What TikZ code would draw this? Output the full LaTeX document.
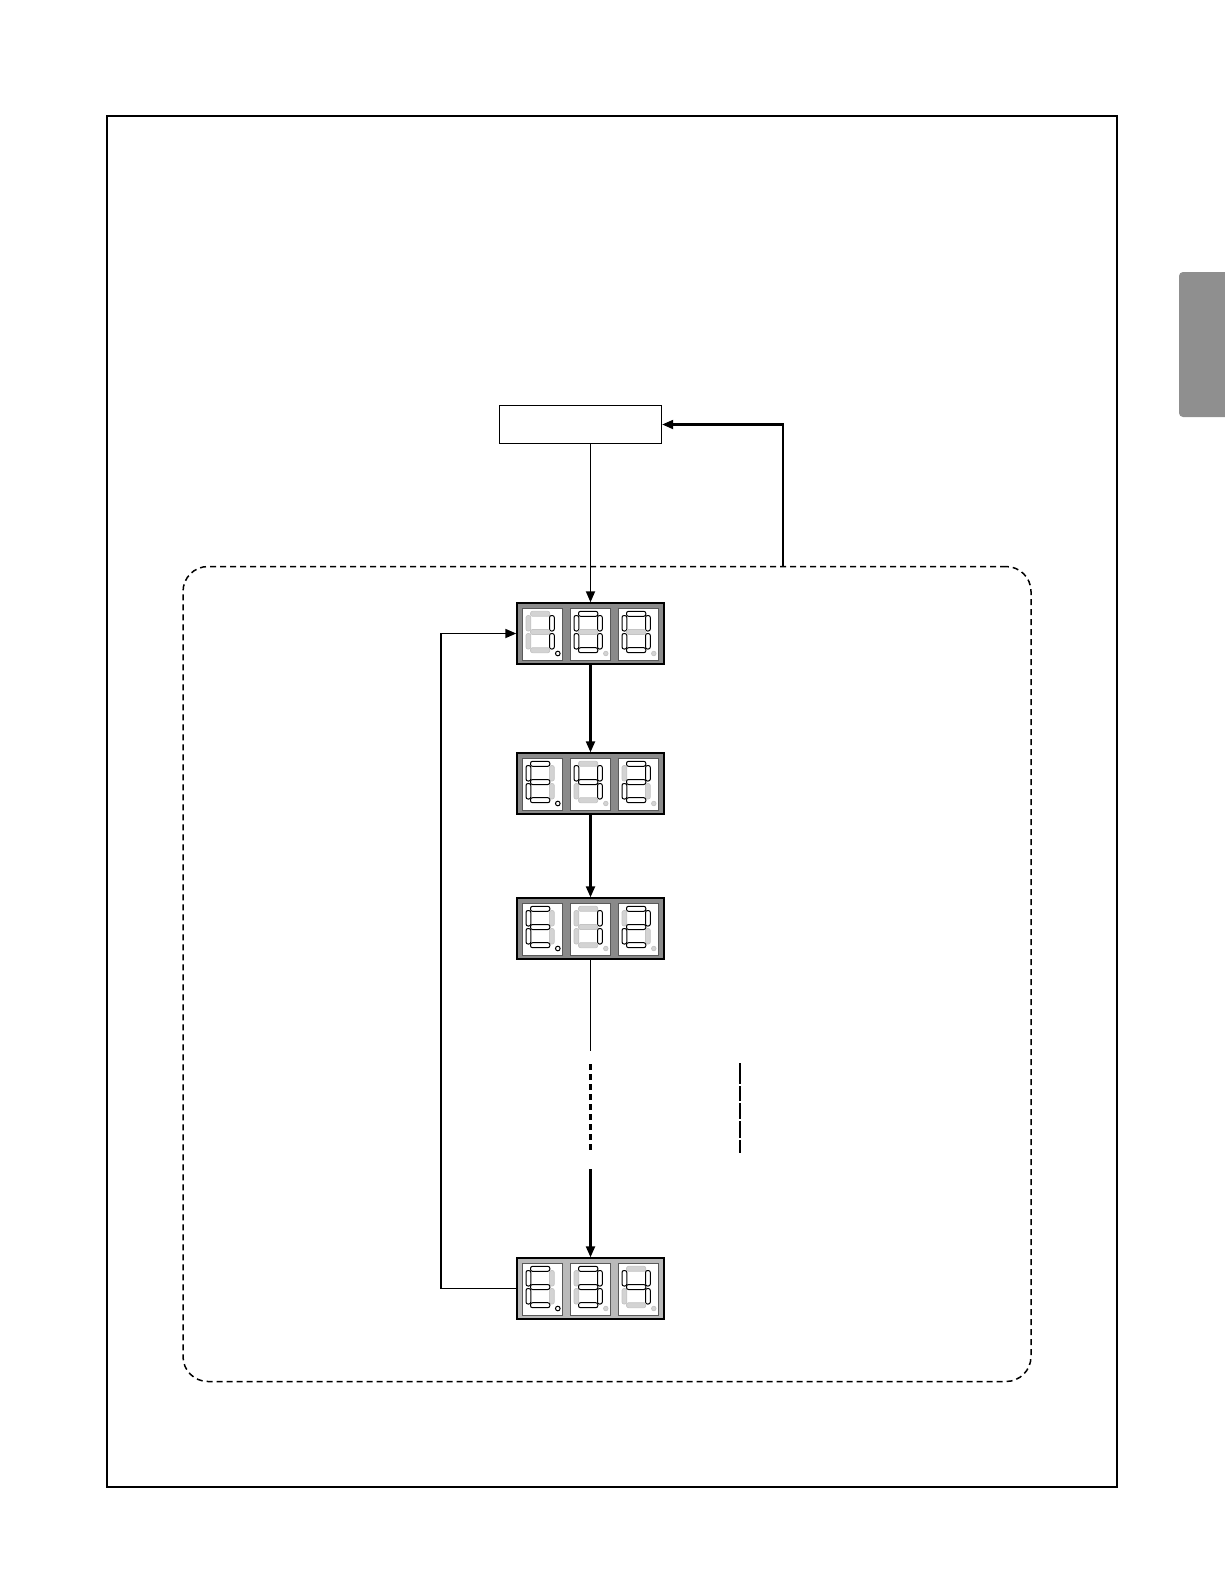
\documentclass[tikz,border=0pt]{standalone}
\usetikzlibrary{arrows.meta}
\definecolor{dispdark}{RGB}{138,138,138}
\definecolor{displight}{RGB}{186,186,186}
\definecolor{tabgray}{RGB}{143,143,143}
\definecolor{segoff}{RGB}{196,196,196}
\tikzset{
 arr/.style={-{Triangle[length=11pt,width=9pt]}, line width=1.8pt},
 disp/.style={draw=black, line width=1.4pt, minimum width=147pt, minimum height=61pt, inner sep=0pt},
 cell/.style={draw=black!65, fill=white, line width=0.8pt},
 lit/.style={draw=black, fill=white, line width=1pt},
 unlit/.style={draw=segoff, fill=segoff!75, line width=0.7pt},
 seg/.style={rounded corners=2pt},
 grp/.style={draw=black, dashed, dash pattern=on 6pt off 4pt, line width=1.5pt, rounded corners=25pt, minimum width=848pt, minimum height=815pt, inner sep=0pt},
 plainbox/.style={draw=black, line width=1.4pt, minimum width=162pt, minimum height=37.5pt, inner sep=0pt, fill=white},
}
\newcommand\sevdigit[4]{%
 \begin{scope}[shift={(#1,#2)}]
  \foreach \b [count=\i] in {#3}{%
    \ifnum\b=1 \tikzset{cur/.style=lit}\else\tikzset{cur/.style=unlit}\fi
    \ifcase\i\or
      \path[seg,cur] (8.5,3.3) rectangle (27.8,8.3);\or
      \path[seg,cur] (27.5,7.5) rectangle (32.3,23);\or
      \path[seg,cur] (27.5,25.5) rectangle (32.3,41);\or
      \path[seg,cur] (8.5,39.7) rectangle (27.8,44.7);\or
      \path[seg,cur] (4,25.5) rectangle (8.8,41);\or
      \path[seg,cur] (4,7.5) rectangle (8.8,23);\or
      \path[seg,cur] (8.5,21.5) rectangle (27.8,26.5);\fi
  }
  \ifnum#4=1 \path[lit] (35.8,45.5) circle (2.3);\else \path[unlit] (35.8,45.5) circle (2.3);\fi
 \end{scope}}
\newcommand\dispcells[1]{%
  \foreach \cx in {522,570,618}{\path[cell] (\cx,{#1+5}) rectangle ({\cx+40},{#1+57});}}
\begin{document}
\begin{tikzpicture}[x=1pt,y=-1pt]
\useasboundingbox (0,0) rectangle (1224,1584);
% page frame and side tab
\draw[line width=1.7pt] (107,116) rectangle (1117,1487);
\fill[tabgray, rounded corners=4pt] (1179,272) rectangle (1234,417);
% group region
\node[grp] (grp) at (607,974) {};
% top box
\node[plainbox] (top) at (580.5,424.5) {};
% displays
\node[disp, fill=dispdark] (d1) at (590.5,633.5) {};
\node[disp, fill=dispdark] (d2) at (590.5,783.5) {};
\node[disp, fill=dispdark] (d3) at (590.5,928.5) {};
\node[disp, fill=displight] (d4) at (590.5,1288.5) {};
\dispcells{603}
\sevdigit{522}{608}{0,1,1,0,0,0,0}{1}
\sevdigit{570}{608}{1,1,1,1,1,1,0}{0}
\sevdigit{618}{608}{1,1,1,1,1,1,0}{0}
\dispcells{753}
\sevdigit{522}{758}{1,0,0,1,1,1,1}{1}
\sevdigit{570}{758}{0,1,1,0,0,1,1}{0}
\sevdigit{618}{758}{1,1,0,1,1,0,1}{0}
\dispcells{898}
\sevdigit{522}{903}{1,0,0,1,1,1,1}{1}
\sevdigit{570}{903}{0,1,1,0,0,0,0}{0}
\sevdigit{618}{903}{1,1,0,1,1,0,1}{0}
\dispcells{1258}
\sevdigit{522}{1263}{1,0,0,1,1,1,1}{1}
\sevdigit{570}{1263}{1,1,1,1,0,0,1}{0}
\sevdigit{618}{1263}{0,1,1,0,0,1,1}{0}
% connectors
\draw[arr, line width=1.8pt] (d1.north |- top.south) -- (d1.north);
\coordinate (fb) at (783,566.5);
\draw[arr, line width=2.1pt] (fb) |- (top.east);
\draw[arr, line width=2.2pt] (d1.south) -- (d2.north);
\draw[arr, line width=2.2pt] (d2.south) -- (d3.north);
\coordinate (b1) at (590.5,1051);
\coordinate (b2) at (590.5,1064);
\coordinate (b3) at (590.5,1150);
\coordinate (b4) at (590.5,1169);
\draw[line width=1.9pt] (d3.south) -- (b1);
\draw[line width=2.8pt, dash pattern=on 6pt off 4pt] (b2) -- (b3);
\draw[arr, line width=2.2pt] (b4) -- (d4.north);
\draw[arr, line width=1.7pt] (d4.west) -- ++(-75,0) |- (d1.west);
% separate short bar
\foreach \ya/\yb in {1063/1084,1086/1101,1103/1119,1121/1138,1140/1153}
  \draw[line width=2.8pt] (740,\ya) -- (740,\yb);
\end{tikzpicture}
\end{document}
